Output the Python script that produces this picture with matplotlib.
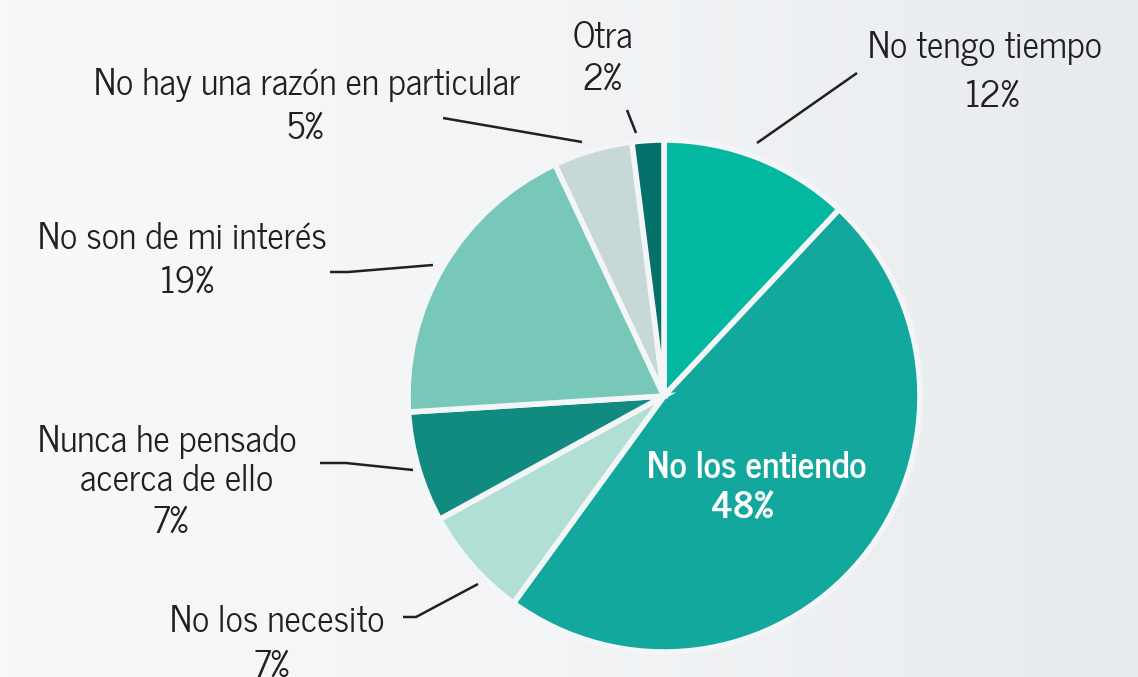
import matplotlib.pyplot as plt
import numpy as np
from matplotlib.colors import LinearSegmentedColormap

# data
labels = ["No tengo tiempo", "No los entiendo", "No los necesito",
          "Nunca he pensado\nacerca de ello", "No son de mi interés",
          "No hay una razón en particular", "Otra"]
values = [12, 48, 7, 7, 19, 5, 2]
colors = ["#03B8A1", "#13A89E", "#B1DFD6", "#118B80", "#78C8BA", "#C6D9D8", "#06716A"]

W, H = 1138, 677
BG = "#F3F5F7"

plt.rcParams["font.family"] = ["News Cycle", "DejaVu Sans"]


def px(x, y):
    # pixel coords (top-left origin) -> data coords
    return x, H - y


fig = plt.figure(figsize=(W / 100, H / 100), dpi=100)
ax = fig.add_axes([0, 0, 1, 1])

# background gradient
grad = np.linspace(0, 1, 256).reshape(1, -1)
cmap = LinearSegmentedColormap.from_list("bg", ["#F8F9FA", "#F2F4F6", "#E8EBEE"])
ax.imshow(grad, extent=[0, W, 0, H], cmap=cmap, aspect="auto", zorder=0)

cx, cy = px(664, 396)
ax.pie(values, colors=colors, startangle=90, counterclock=False,
       center=(cx, cy), radius=256,
       wedgeprops=dict(edgecolor="#F3F5F6", linewidth=4, zorder=2))
ax.set_xlim(0, W)
ax.set_ylim(0, H)
ax.set_aspect("auto")
ax.axis("off")

txt = "#231F20"
fs = 26

# label layout: (slice index, [(x, baseline) per text line], leader line points)
layout = [
    (0, [(985, 58), (992, 107)], [(757, 143), (857, 73)]),
    (2, [(277, 632), (272, 677)], [(403, 617), (416, 617), (478, 584)]),
    (3, [(167, 452), (177, 491), (171, 533)], [(320, 463), (346, 463), (413, 470)]),
    (4, [(182, 249), (187, 293)], [(330, 272), (348, 272), (433, 265)]),
    (5, [(307, 95), (305, 139)], [(443, 118), (582, 142)]),
    (6, [(603, 48), (602, 90)], [(627, 110), (636, 133)]),
]
for idx, pos, pts in layout:
    lines = labels[idx].split("\n") + [f"{values[idx]}%"]
    for ln, (x, y) in zip(lines, pos):
        ax.text(*px(x, y), ln, ha="center", va="baseline",
                fontsize=fs, color=txt, zorder=4)
    xs = [p[0] for p in pts]
    ys = [H - p[1] for p in pts]
    ax.plot(xs, ys, color=txt, linewidth=1.8, zorder=3, solid_capstyle="butt")

ax.text(*px(757, 478), labels[1], ha="center", va="baseline", fontsize=fs,
        color="white", fontweight="bold", zorder=4)
ax.text(*px(742, 518), f"{values[1]}%", ha="center", va="baseline", fontsize=fs,
        color="white", fontweight="bold", zorder=4)

fig.savefig("out.png", dpi=100, facecolor=BG)
